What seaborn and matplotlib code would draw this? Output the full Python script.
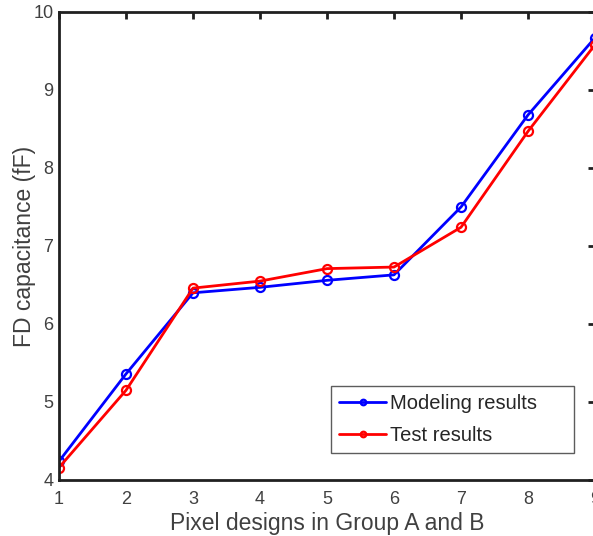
import pandas as pd
import matplotlib.pyplot as plt
import seaborn as sns

# Values
designs = [1, 2, 3, 4, 5, 6, 7, 8, 9]
modeling = [4.24, 5.36, 6.40, 6.47, 6.56, 6.63, 7.50, 8.68, 9.67]
test = [4.16, 5.15, 6.46, 6.55, 6.71, 6.73, 7.24, 8.47, 9.58]

data = pd.DataFrame({
    'design': designs * 2,
    'cap': modeling + test,
    'series': ['Modeling results'] * 9 + ['Test results'] * 9,
})

sns.set_style('white')
plt.rcParams['font.family'] = ['Liberation Sans', 'DejaVu Sans']

fig = plt.figure(figsize=(5.93, 5.36), dpi=100)
ax = fig.add_axes([59 / 593, 1 - 480 / 536, (595 - 59) / 593, (480 - 12) / 536])

sns.lineplot(data=data, x='design', y='cap', hue='series',
             palette={'Modeling results': '#0000ff', 'Test results': '#ff0000'},
             marker='o', markersize=6.5, markerfacecolor='none', markeredgewidth=1.6,
             linewidth=2, ax=ax)
for line in ax.get_lines():
    line.set_markerfacecolor('none')
    line.set_markeredgecolor(line.get_color())

ax.set_xlim(1, 9)
ax.set_ylim(4, 10)
ax.set_xticks(range(1, 10))
ax.set_yticks(range(4, 11))
ax.tick_params(direction='in', length=5, width=2, top=True, right=True,
               labelsize=13, labelcolor='#404040', color='#202020')
ax.tick_params(axis='x', pad=8)
ax.tick_params(axis='y', pad=4)
for s in ax.spines.values():
    s.set_linewidth(2)
    s.set_color('#202020')

ax.set_xlabel('Pixel designs in Group A and B', fontsize=16.5, color='#404040', labelpad=2.5)
ax.set_ylabel('FD capacitance (fF)', fontsize=16.5, color='#404040', labelpad=-2)

leg = ax.legend(loc='lower left', bbox_to_anchor=(0.5075, 0.0577, 0.453, 0.1),
                mode='expand', borderaxespad=0, fontsize=14.5,
                frameon=True, fancybox=False, edgecolor='#333333',
                handlelength=2.35, borderpad=0.4, labelspacing=0.65, handletextpad=0.2)
leg.get_frame().set_linewidth(1)
for h in leg.legend_handles:
    h.set_markersize(4)
    h.set_markerfacecolor('none')

fig.savefig('out.png', dpi=100)
